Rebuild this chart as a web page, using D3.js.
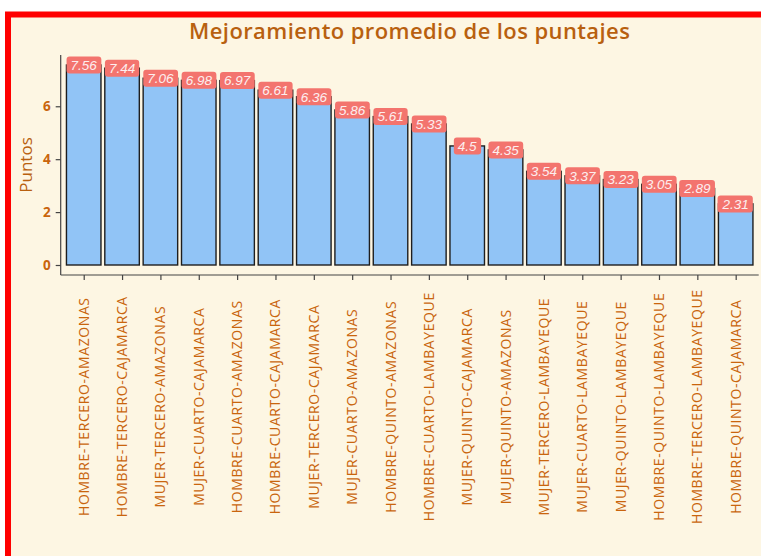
<!DOCTYPE html>
<html><head><meta charset="utf-8">
<script src="https://cdn.jsdelivr.net/npm/d3@7"></script>
<style>
html,body{margin:0;padding:0;background:#fff;}
svg{display:block;}
</style></head>
<body>
<svg id="chart" width="761" height="556"></svg>
<script>
const categories = [
  "HOMBRE-TERCERO-AMAZONAS","HOMBRE-TERCERO-CAJAMARCA","MUJER-TERCERO-AMAZONAS",
  "MUJER-CUARTO-CAJAMARCA","HOMBRE-CUARTO-AMAZONAS","HOMBRE-CUARTO-CAJAMARCA",
  "MUJER-TERCERO-CAJAMARCA","MUJER-CUARTO-AMAZONAS","HOMBRE-QUINTO-AMAZONAS",
  "HOMBRE-CUARTO-LAMBAYEQUE","MUJER-QUINTO-CAJAMARCA","MUJER-QUINTO-AMAZONAS",
  "MUJER-TERCERO-LAMBAYEQUE","MUJER-CUARTO-LAMBAYEQUE","MUJER-QUINTO-LAMBAYEQUE",
  "HOMBRE-QUINTO-LAMBAYEQUE","HOMBRE-TERCERO-LAMBAYEQUE","HOMBRE-QUINTO-CAJAMARCA"
];
const values = [7.56,7.44,7.06,6.98,6.97,6.61,6.36,5.86,5.61,5.33,4.5,4.35,3.54,3.37,3.23,3.05,2.89,2.31];
const yTicks = [0,2,4,6];
const titleText = "Mejoramiento promedio de los puntajes";
const yTitle = "Puntos";

(function(){
const svg = d3.select("#chart");
const W = 761, H = 556;
const brown = "#b8600f", orange = "#c9650d";
const font = "'Open Sans', 'Noto Sans', sans-serif";

// background + red frame
svg.append("rect").attr("x",8).attr("y",14.5).attr("width",W+20).attr("height",H+20)
  .attr("fill","#fdf6e3").attr("stroke","#ff0000").attr("stroke-width",6);

const pL = 60.7, pR = 758.7, pT = 55, pB = 275;
const n = categories.length;
const step = (pR-pL)/(n - 1 + 1.2);
const x = d3.scalePoint().domain(categories).range([pL+0.6*step, pR-0.6*step]);
const ymax = d3.max(values);
const y = d3.scaleLinear().domain([-0.05*ymax, 1.05*ymax]).range([pB, pT]);
const bw = step*0.9;

const g = svg.append("g");

// bars
g.selectAll("rect.bar").data(values).join("rect").attr("class","bar")
  .attr("x",(d,i)=>x(categories[i])-bw/2).attr("width",bw)
  .attr("y",d=>y(d)).attr("height",d=>y(0)-y(d))
  .attr("fill","#91c4f6").attr("stroke","#1e1e1e").attr("stroke-width",1.4);

// axes
const yAxis = d3.axisLeft(y).tickValues(yTicks).tickSize(5).tickPadding(5);
const ya = svg.append("g").attr("transform",`translate(${pL},0)`).call(yAxis);
ya.select(".domain").attr("d",`M0,${pT}V${pB}`).attr("stroke","#444").attr("stroke-width",1.2);
ya.selectAll(".tick line").attr("stroke","#444").attr("stroke-width",1.2);
ya.selectAll(".tick text").attr("fill",orange).attr("font-family",font).attr("font-size",13.5).attr("font-weight","bold");

const xAxis = d3.axisBottom(x).tickSize(5).tickFormat("");
const xa = svg.append("g").attr("transform",`translate(0,${pB})`).call(xAxis);
xa.select(".domain").attr("d",`M${pL},0H${pR}`).attr("stroke","#444").attr("stroke-width",1.2);
xa.selectAll(".tick line").attr("stroke","#444").attr("stroke-width",1.2);

// x labels rotated
svg.append("g").selectAll("text").data(categories).join("text")
  .attr("transform",d=>`translate(${x(d)+5},406.7) rotate(-90)`)
  .attr("text-anchor","middle")
  .attr("font-family",font).attr("font-size",14).attr("letter-spacing",0.6).attr("fill",orange)
  .text(d=>d);

// value labels
const lab = g.selectAll("g.lab").data(values).join("g").attr("class","lab")
  .attr("transform",(d,i)=>`translate(${x(categories[i])},${y(d)})`);
const txt = lab.append("text").attr("text-anchor","middle").attr("dy","0.36em")
  .attr("font-family","'Liberation Sans', Arial, sans-serif").attr("font-style","italic")
  .attr("font-size",13.5).attr("fill","#fdeeee").text(d=>d);
txt.each(function(){
  const bb = this.getBBox();
  d3.select(this.parentNode).insert("rect","text")
    .attr("x",bb.x-4).attr("y",-8.5).attr("width",bb.width+8).attr("height",17)
    .attr("rx",3).attr("fill","#f3746e");
});

// title
svg.append("text").attr("x",(pL+pR)/2).attr("y",39).attr("text-anchor","middle")
  .attr("font-family",font).attr("font-size",22).attr("letter-spacing",0.4).attr("fill",brown).attr("font-weight",600)
  .text(titleText);

// y title
svg.append("text").attr("transform",`translate(32,165) rotate(-90)`).attr("text-anchor","middle")
  .attr("font-family",font).attr("font-size",17).attr("fill",brown)
  .text(yTitle);
})();
</script>
</body></html>
